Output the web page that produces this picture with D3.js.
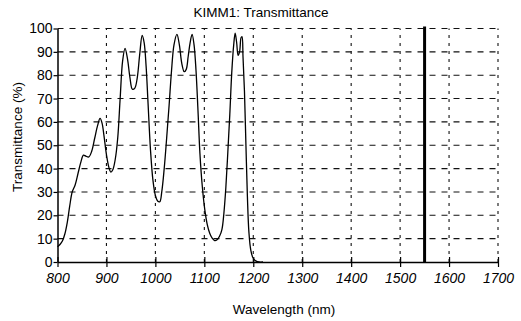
<!DOCTYPE html>
<html>
<head>
<meta charset="utf-8">
<script src="https://cdn.jsdelivr.net/npm/d3@7"></script>
<style>
  html, body { margin: 0; padding: 0; background: #fff; }
  svg { display: block; }
</style>
</head>
<body>
<svg id="chart"></svg>
<script>
const wavelengths = [800, 805, 810, 815, 820, 825, 830, 836, 842, 848, 853, 858, 864, 870, 876, 882, 887, 891, 895, 900,
  905, 909, 913, 918, 923, 928, 933, 938, 943, 948, 953, 958, 963, 968, 973, 977, 981, 985, 990, 995,
  1000, 1005, 1009, 1013, 1018, 1023, 1028, 1033, 1038, 1044, 1049, 1054, 1059, 1063, 1067, 1071, 1075, 1079, 1083, 1087,
  1091, 1096, 1101, 1106, 1111, 1116, 1121, 1126, 1131, 1136, 1140, 1144, 1148, 1152, 1156, 1160, 1163, 1166, 1169, 1172,
  1175, 1177, 1179, 1182, 1185, 1188, 1191, 1195, 1200, 1205, 1212, 1220];
const transmittance = [6.5, 7.5, 9, 12, 17, 24, 30, 33, 38, 43, 45.8, 45.3, 45, 47.5, 53, 58.5, 61.5, 59.5, 54, 46,
  40.5, 38.5, 39.5, 44, 53, 70, 86, 91.5, 87, 79, 74, 74.5, 79, 89, 97, 94, 84, 68, 48, 35,
  28.5, 26, 25.8, 30, 40, 53, 67, 82, 93, 97.5, 93, 85, 81.5, 82.5, 88, 94, 97.5, 93, 82, 65,
  46.5, 32, 22.3, 16, 12.3, 10.2, 9.2, 9.5, 11, 14, 21, 32, 47, 63, 81, 93, 98, 94, 88.5, 90,
  96, 96.5, 88, 73, 50, 28, 13, 5, 1.5, 0.5, 0, 0];
const xTicks = [800, 900, 1000, 1100, 1200, 1300, 1400, 1500, 1600, 1700];
const yTicks = [0, 10, 20, 30, 40, 50, 60, 70, 80, 90, 100];
const markerWavelength = [1550];

const W = 521, H = 321;
const margin = { top: 28.5, right: 23, bottom: 59, left: 57.5 };
const FONT = '"Liberation Sans", Arial, Helvetica, sans-serif';

const svg = d3.select('#chart').attr('width', W).attr('height', H);

const x = d3.scaleLinear().domain([800, 1700]).range([margin.left, W - margin.right]);
const y = d3.scaleLinear().domain([0, 100]).range([H - margin.bottom, margin.top]);

// grid
svg.append('g')
  .selectAll('line')
  .data(yTicks.filter(d => d > 0))
  .join('line')
  .attr('x1', x(800)).attr('x2', x(1700))
  .attr('y1', d => y(d)).attr('y2', d => y(d))
  .attr('stroke', '#111').attr('stroke-width', 1.1)
  .attr('stroke-dasharray', '6,6');

svg.append('g')
  .selectAll('line')
  .data(xTicks.filter(d => d > 800))
  .join('line')
  .attr('x1', d => x(d)).attr('x2', d => x(d))
  .attr('y1', y(0)).attr('y2', y(100))
  .attr('stroke', '#111').attr('stroke-width', 1.1)
  .attr('stroke-dasharray', '3,5');

// axes
const xAxis = svg.append('g')
  .attr('transform', `translate(0,${y(0)})`)
  .call(d3.axisBottom(x).tickValues(xTicks).tickSize(5).tickSizeOuter(0).tickFormat(d3.format('d')));
xAxis.select('.domain').attr('stroke', '#000').attr('stroke-width', 1.5);
xAxis.selectAll('.tick line').attr('y1', -5).attr('stroke-width', 1.2);
xAxis.selectAll('.tick text')
  .attr('y', 11)
  .style('font-family', FONT).style('font-size', '14px').style('font-style', 'italic').attr('fill', '#000');

const yAxis = svg.append('g')
  .attr('transform', `translate(${x(800)},0)`)
  .call(d3.axisLeft(y).tickValues(yTicks).tickSize(4).tickSizeOuter(0));
yAxis.select('.domain').attr('stroke', '#000').attr('stroke-width', 1.5);
yAxis.selectAll('.tick line').attr('stroke-width', 1.2);
yAxis.selectAll('.tick text')
  .attr('x', -5)
  .style('font-family', FONT).style('font-size', '14px').attr('fill', '#000');

// 1550 nm marker
svg.append('g')
  .selectAll('line')
  .data(markerWavelength)
  .join('line')
  .attr('x1', d => x(d)).attr('x2', d => x(d))
  .attr('y1', y(0)).attr('y2', y(100) - 2)
  .attr('stroke', '#000').attr('stroke-width', 3);

// curve
const pts = wavelengths.map((w, i) => [w, transmittance[i]]);
svg.append('path')
  .datum(pts)
  .attr('fill', 'none')
  .attr('stroke', '#000')
  .attr('stroke-width', 1.3)
  .attr('d', d3.line().x(d => x(d[0])).y(d => y(d[1])).curve(d3.curveCatmullRom.alpha(0.5)));

// labels
svg.append('text')
  .attr('x', 261).attr('y', 17)
  .attr('text-anchor', 'middle')
  .style('font-family', FONT).style('font-size', '13.5px')
  .text('KIMM1: Transmittance');

svg.append('text')
  .attr('x', 284).attr('y', 314)
  .attr('text-anchor', 'middle')
  .style('font-family', FONT).style('font-size', '13.5px')
  .text('Wavelength (nm)');

svg.append('text')
  .attr('transform', 'translate(22,137) rotate(-90)')
  .attr('text-anchor', 'middle')
  .style('font-family', FONT).style('font-size', '13.5px')
  .text('Transmittance (%)');
</script>
</body>
</html>
